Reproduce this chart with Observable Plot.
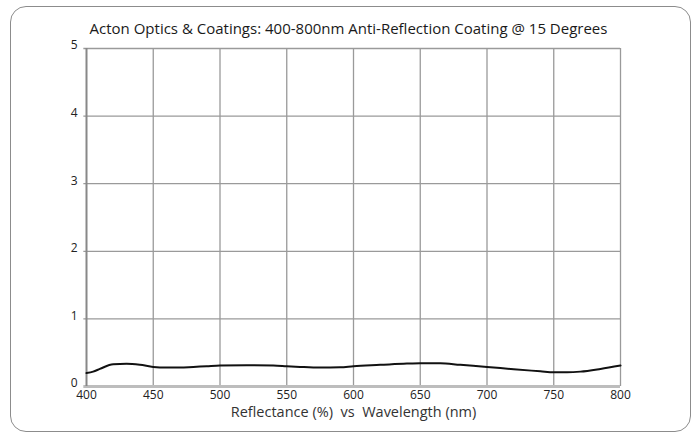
<!DOCTYPE html>
<html>
<head>
<meta charset="utf-8">
<script src="https://cdn.jsdelivr.net/npm/d3@7"></script>
<script src="https://cdn.jsdelivr.net/npm/@observablehq/plot@0.6"></script>
<style>
  html, body { margin: 0; padding: 0; background: #fff; }
  #wrap { position: relative; width: 696px; height: 437px; overflow: hidden; }
  #border { position: absolute; left: 10px; top: 6px; width: 681px; height: 426px;
            border: 1.5px solid #8c8c8c; border-radius: 16px; box-sizing: border-box; }
  #chart { position: absolute; left: 0; top: 0; }
  #chart svg { background: transparent; overflow: visible; }
</style>
</head>
<body>
<div id="wrap"><div id="border"></div><div id="chart"></div></div>
<script>
const titleText = "Acton Optics & Coatings: 400-800nm Anti-Reflection Coating @ 15 Degrees";
const xLabel = "Reflectance (%)  vs  Wavelength (nm)";
const xTicks = [400, 450, 500, 550, 600, 650, 700, 750, 800];
const yTicks = [0, 1, 2, 3, 4, 5];
const wavelength = [400, 405, 410, 420, 430, 440, 450, 460, 470, 480, 490, 500, 520, 540, 550, 560, 575, 590, 600, 620, 640, 650, 665, 680, 700, 720, 740, 750, 760, 770, 785, 800];
const reflectance = [0.20, 0.22, 0.26, 0.33, 0.335, 0.32, 0.29, 0.28, 0.28, 0.29, 0.30, 0.31, 0.315, 0.31, 0.30, 0.29, 0.28, 0.285, 0.30, 0.32, 0.34, 0.345, 0.345, 0.32, 0.29, 0.255, 0.225, 0.21, 0.21, 0.22, 0.26, 0.31];

const data = wavelength.map((w, i) => ({w, r: reflectance[i]}));
const font = "'Open Sans', 'Noto Sans', sans-serif";

const plot = Plot.plot({
  width: 696,
  height: 437,
  marginLeft: 86,
  marginRight: 76,
  marginTop: 48,
  marginBottom: 51,
  style: {fontFamily: font, fontSize: "11px", color: "#222", background: "transparent"},
  x: {domain: [400, 800], ticks: xTicks, label: null},
  y: {domain: [0, 5], ticks: yTicks, label: null},
  marks: [
    Plot.ruleX(xTicks.filter(d => d !== 400), {stroke: "#9a9a9a", strokeWidth: 1.3}),
    Plot.ruleY(yTicks.filter(d => d !== 0), {stroke: "#9a9a9a", strokeWidth: 1.3, x1: 398, x2: 800}),
    Plot.ruleY([0], {stroke: "#bdbdbd", strokeWidth: 3, x1: 398, x2: 800}),
    Plot.ruleX([400], {stroke: "#888", strokeWidth: 2}),
    Plot.axisX({ticks: xTicks, tickSize: 0, tickPadding: 4, fontSize: 12, tickFormat: "d", label: null, fill: "#222"}),
    Plot.axisY({ticks: yTicks, tickSize: 0, tickPadding: 9, dy: -3, fontSize: 12, tickFormat: "d", label: null, fill: "#222"}),
    Plot.line(data, {x: "w", y: "r", stroke: "#111", strokeWidth: 2, curve: "monotone-x"}),
    Plot.text([titleText], {frameAnchor: "top", lineAnchor: "middle", dy: -19, dx: -5, fontSize: 15, fill: "#1a1a1a", fontFamily: font,
      letterSpacing: "0.3px", fontWeight: 500}),
    Plot.text([xLabel], {frameAnchor: "bottom", lineAnchor: "middle", dy: 26, fontSize: 14.5, fill: "#333", fontFamily: font,
      letterSpacing: "0.6px"})
  ]
});
plot.querySelectorAll("text").forEach(t => {
  if (t.textContent === xLabel) { t.setAttribute("xml:space", "preserve"); t.style.whiteSpace = "pre"; }
});
document.getElementById("chart").appendChild(plot);
</script>
</body>
</html>
